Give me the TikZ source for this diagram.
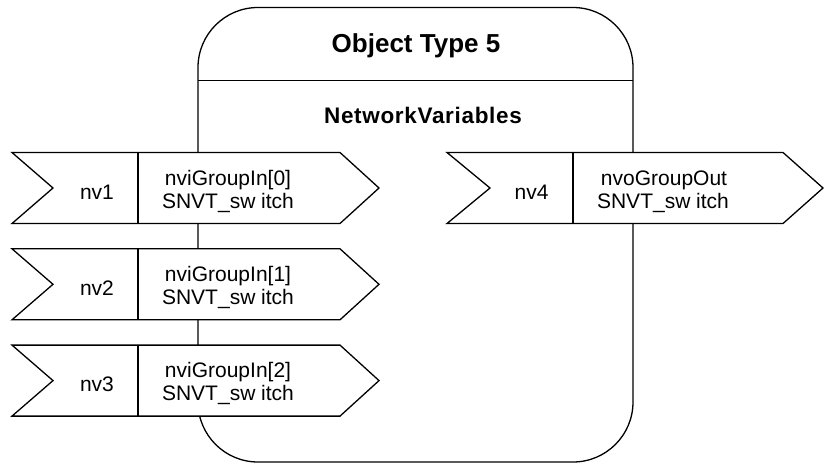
\documentclass[tikz,border=0pt]{standalone}
\usepackage{fontspec}
\setmainfont{Liberation Sans}
\begin{document}
\begin{tikzpicture}[x=1pt,y=-1pt,
  edge/.style={line width=1.3pt, line join=miter},
  nvbox/.style={edge, fill=white},
  lbl/.style={inner sep=0pt, anchor=base, font=\fontsize{21}{23}\selectfont},
  titletext/.style={inner sep=0pt, anchor=base, font=\fontsize{26}{28}\bfseries\selectfont},
  subtext/.style={inner sep=0pt, anchor=base, font=\fontsize{22.5}{25}\bfseries\addfontfeatures{LetterSpace=3}\selectfont}]
\useasboundingbox (0,0) rectangle (829,463);
% object box
\draw[edge, rounded corners=60pt] (198,7.5) rectangle (633,462);
\coordinate (divL) at (198,80.5);
\coordinate (divR) at (633,80.5);
\draw[edge] (divL) -- (divR);
\node[titletext] (title) at (416,52.5) {Object Type 5};
\node[subtext] (nvhead) at (423,123.3) {NetworkVariables};
% input network variables
\foreach \k/\yy/\idx in {1/152.5/0, 2/248.8/1, 3/345.1/2} {
  \draw[nvbox] (12,\yy) -- (340,\yy) -- (379,\yy+35.5) -- (340,\yy+71) -- (12,\yy+71) -- (53,\yy+35.5) -- cycle;
  \draw[edge] (138,\yy) -- (138,\yy+71);
  \node[lbl] (nv\k) at (97,\yy+46.5) {nv\k};
  \node[lbl] (name\k) at (228,\yy+32.5) {nviGroupIn[\idx]};
  \node[lbl] (type\k) at (228,\yy+55.8) {SNVT\_sw itch};
}
% output network variable
\draw[nvbox] (447,152.5) -- (783,152.5) -- (823,188) -- (783,223.5) -- (447,223.5) -- (490,188) -- cycle;
\draw[edge] (573,152.5) -- (573,223.5);
\node[lbl] (nv4) at (531.5,199) {nv4};
\node[lbl] (name4) at (664,185) {nvoGroupOut};
\node[lbl] (type4) at (663,208.3) {SNVT\_sw itch};
\end{tikzpicture}
\end{document}
